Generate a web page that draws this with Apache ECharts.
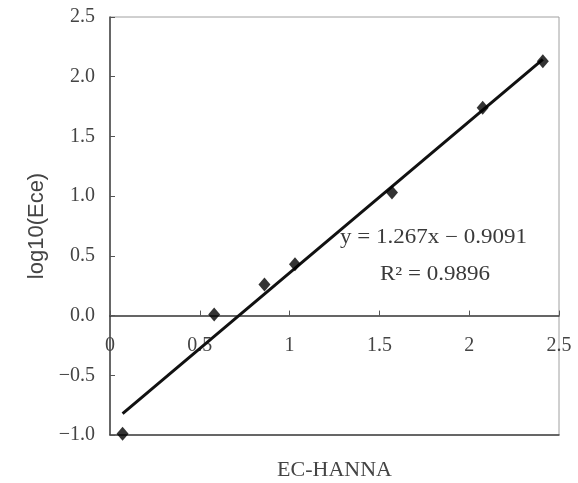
<!DOCTYPE html>
<html>
<head>
<meta charset="utf-8">
<script src="https://cdn.jsdelivr.net/npm/echarts@6/dist/echarts.min.js"></script>
<style>html,body{margin:0;padding:0;background:#fff}#c{width:578px;height:483px}</style>
</head>
<body>
<div id="c"></div>
<script>
// Data
var xValues = [0.07, 0.58, 0.86, 1.03, 1.57, 2.075, 2.41];
var yValues = [-0.99, 0.01, 0.26, 0.43, 1.03, 1.74, 2.13];
var fitSlope = 1.267;
var fitIntercept = -0.9091;
var equationText = 'y = 1.267x \u2212 0.9091';
var r2Text = 'R\u00b2 = 0.9896';
var xTickLabels = ['0', '0.5', '1', '1.5', '2', '2.5'];
var yTickLabels = ['\u22121.0', '\u22120.5', '0.0', '0.5', '1.0', '1.5', '2.0', '2.5'];
var xName = 'EC-HANNA';
var yName = 'log10(Ece)';

var points = xValues.map(function (x, i) { return [x, yValues[i]]; });
var xMin = Math.min.apply(null, xValues), xMax = Math.max.apply(null, xValues);
var fitLine = [[xMin, fitSlope * xMin + fitIntercept], [xMax, fitSlope * xMax + fitIntercept]];

var serif = 'Liberation Serif';
var chart = echarts.init(document.getElementById('c'));
chart.setOption({
  animation: false,
  grid: { left: 110, right: 19, top: 17, bottom: 48, show: true, borderColor: '#a0a0a0', borderWidth: 1, backgroundColor: '#fff',
    containLabel: false, outerBoundsMode: 'none' },
  xAxis: [{
    type: 'value', min: 0, max: 2.5, interval: 0.5,
    axisLine: { show: true, onZero: true, lineStyle: { color: '#333', width: 1.5 } },
    axisTick: { show: true, inside: true, length: 5, lineStyle: { color: '#555' } },
    splitLine: { show: false },
    axisLabel: { show: false }
  }, {
    type: 'value', min: 0, max: 2.5, interval: 0.5, position: 'bottom',
    axisLine: { show: true, onZero: false, lineStyle: { color: '#444', width: 1.5 } },
    axisTick: { show: false }, splitLine: { show: false },
    axisLabel: { margin: -99, color: '#444', fontFamily: serif, fontSize: 20,
      formatter: function (v) { return xTickLabels[Math.round(v / 0.5)]; } },
    name: xName, nameLocation: 'middle', nameGap: 24,
    nameTextStyle: { color: '#444', fontFamily: serif, fontSize: 22 }
  }],
  yAxis: {
    type: 'value', min: -1, max: 2.5, interval: 0.5,
    axisLine: { show: true, onZero: false, lineStyle: { color: '#444', width: 1.5 } },
    axisTick: { show: true, inside: true, length: 5, lineStyle: { color: '#555' } },
    splitLine: { show: false },
    axisLabel: { margin: 15, color: '#444', fontFamily: serif, fontSize: 20,
      formatter: function (v) { return yTickLabels[Math.round((v + 1) / 0.5)]; } },
    name: yName, nameLocation: 'middle', nameGap: 59, nameRotate: 90,
    nameTextStyle: { color: '#444', fontFamily: 'Liberation Sans', fontSize: 22 }
  },
  series: [{
    type: 'line', data: fitLine, showSymbol: false, symbol: 'none',
    lineStyle: { color: '#111', width: 3 }, z: 2
  }, {
    type: 'scatter', data: points, symbol: 'diamond', symbolSize: [12, 14],
    itemStyle: { color: '#000' }, z: 3
  }],
  graphic: [{
    type: 'text', x: 340, y: 238, scaleX: 1.15,
    style: { text: equationText, fill: '#3a3a3a', font: '20px "Liberation Serif"', verticalAlign: 'middle', align: 'left' }
  }, {
    type: 'text', x: 380, y: 275, scaleX: 1.15,
    style: { text: r2Text, fill: '#3a3a3a', font: '20px "Liberation Serif"', verticalAlign: 'middle', align: 'left' }
  }]
});
</script>
</body>
</html>
